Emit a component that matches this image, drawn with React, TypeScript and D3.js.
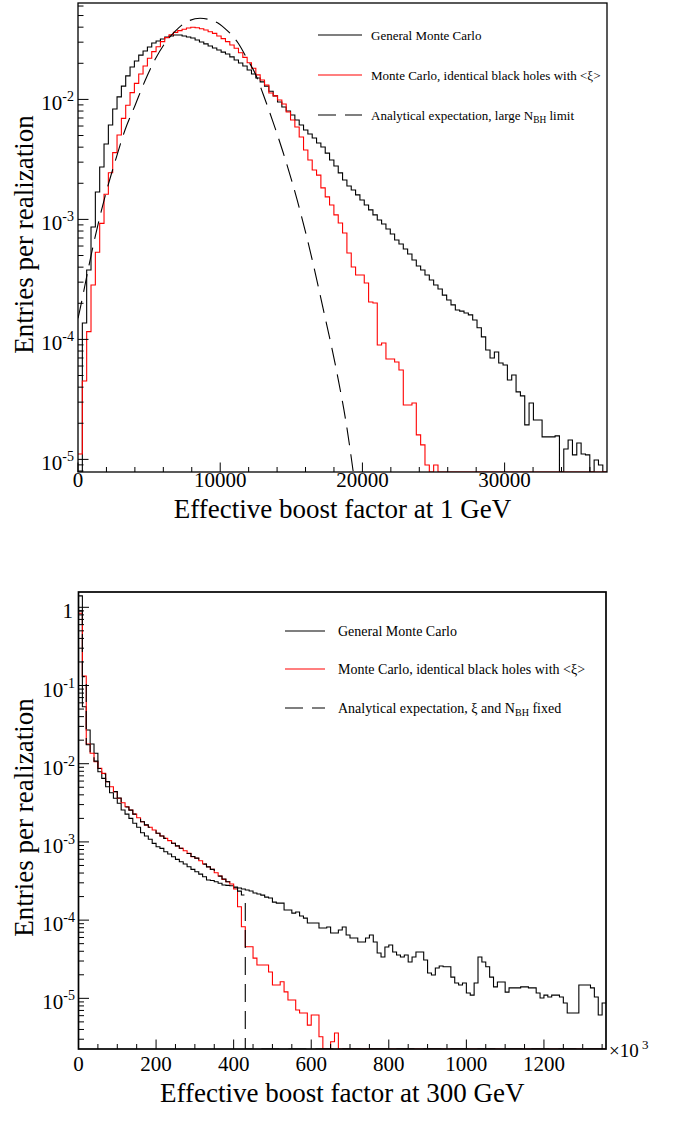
import React from 'react';
import * as d3 from 'd3';

// ---------------- Top panel data (Effective boost factor at 1 GeV) ----------------
const topBinWidth = 305;
const topGeneral = [
  0, 1.37e-4, 3.79e-4, 8.64e-4, 1.69e-3, 2.73e-3, 4.25e-3, 6.12e-3, 8.32e-3, 1.05e-2,
  1.29e-2, 1.57e-2, 1.86e-2, 2.09e-2, 2.34e-2, 2.53e-2, 2.73e-2, 2.95e-2, 3.07e-2, 3.19e-2,
  3.31e-2, 3.38e-2, 3.44e-2, 3.44e-2, 3.38e-2, 3.31e-2, 3.25e-2, 3.13e-2, 3.01e-2, 2.9e-2,
  2.79e-2, 2.68e-2, 2.58e-2, 2.48e-2, 2.39e-2, 2.26e-2, 2.13e-2, 2.01e-2, 1.9e-2, 1.76e-2,
  1.63e-2, 1.51e-2, 1.4e-2, 1.29e-2, 1.17e-2, 1.07e-2, 9.51e-3, 8.64e-3, 8.0e-3, 7.41e-3,
  6.73e-3, 6.12e-3, 5.56e-3, 5.15e-3, 4.77e-3, 4.33e-3, 4.01e-3, 3.57e-3, 3.13e-3, 2.79e-3,
  2.44e-3, 2.13e-3, 1.9e-3, 1.76e-3, 1.6e-3, 1.45e-3, 1.32e-3, 1.2e-3, 1.09e-3, 9.89e-4,
  9.16e-4, 8.32e-4, 7.56e-4, 6.74e-4, 6.24e-4, 5.67e-4, 5.15e-4, 4.59e-4, 4.09e-4, 3.79e-4,
  3.44e-4, 3.13e-4, 2.84e-4, 2.63e-4, 2.34e-4, 2.13e-4, 1.94e-4, 1.76e-4, 1.72e-4, 1.66e-4,
  1.6e-4, 1.45e-4, 1.25e-4, 1.05e-4, 8.15e-5, 7.0e-5, 7.85e-5, 6.36e-5, 6.12e-5, 4.59e-5,
  5.05e-5, 3.65e-5, 3.38e-5, 1.94e-5, 2.95e-5, 2.13e-5, 2.13e-5, 1.54e-5, 1.54e-5, 1.54e-5,
  1.57e-5, 0, 1.22e-5, 1.45e-5, 1.09e-5, 1.37e-5, 1.11e-5, 1.09e-5, 0, 9.89e-6,
  8.98e-6, 0,
];
const topIdentical = [
  1.11e-5, 4.5e-5, 1.16e-4, 2.84e-4, 5.32e-4, 9.27e-4, 1.62e-3, 2.45e-3, 3.6e-3, 5.05e-3,
  6.95e-3, 8.93e-3, 1.14e-2, 1.36e-2, 1.63e-2, 1.9e-2, 2.2e-2, 2.5e-2, 2.75e-2, 3.03e-2,
  3.27e-2, 3.46e-2, 3.62e-2, 3.74e-2, 3.84e-2, 3.94e-2, 3.99e-2, 3.96e-2, 3.88e-2, 3.79e-2,
  3.66e-2, 3.55e-2, 3.38e-2, 3.21e-2, 3.03e-2, 2.84e-2, 2.67e-2, 2.45e-2, 2.24e-2, 2.02e-2,
  1.82e-2, 1.6e-2, 1.45e-2, 1.32e-2, 1.13e-2, 1.07e-2, 9.89e-3, 9.16e-3, 7.85e-3, 6.73e-3,
  5.89e-3, 4.86e-3, 3.79e-3, 3.13e-3, 2.58e-3, 2.34e-3, 1.83e-3, 1.54e-3, 1.32e-3, 1.09e-3,
  9.33e-4, 7.7e-4, 5.25e-4, 4.01e-4, 3.44e-4, 3.44e-4, 2.95e-4, 2.05e-4, 2.01e-4, 8.98e-5,
  9.33e-5, 6.87e-5, 6.87e-5, 6.48e-5, 5.56e-5, 2.84e-5, 2.84e-5, 2.95e-5, 1.6e-5, 1.32e-5,
  8.98e-6, 0, 8.98e-6, 0, 0, 0, 0, 0, 0, 0,
  0, 0, 0, 0, 0, 0, 0, 0, 0, 0,
  0, 0, 0, 0, 0, 0, 0, 0, 0, 0,
  0, 0, 0, 0, 0, 0, 0, 0, 0, 0,
  0, 0,
];
const topAnalyticX = [
  0, 141, 725, 1196, 1899, 2603, 3306, 4010, 4713, 5417, 6120, 6824, 7527, 8583,
  9638, 10341, 11256, 11959, 12452, 13015, 13718, 14421, 15406, 16321, 17235, 18220, 18924, 19346,
];
const topAnalyticY = [
  1.5e-4, 1.78e-4, 3.89e-4, 7.08e-4, 1.55e-3, 3.02e-3, 5.56e-3, 8.91e-3, 1.43e-2, 2.15e-2, 2.95e-2, 3.69e-2, 4.35e-2, 4.74e-2,
  4.45e-2, 3.89e-2, 2.95e-2, 2.11e-2, 1.65e-2, 1.11e-2, 6.46e-3, 3.63e-3, 1.46e-3, 5.47e-4, 1.81e-4, 5.18e-5, 1.79e-5, 8.0e-6,
];
const topXTicks = [0, 10000, 20000, 30000];
const topYTickExps = [-2, -3, -4, -5];
const topLegend = [
  'General Monte Carlo',
  'Monte Carlo, identical black holes with <ξ>',
  'Analytical expectation, large N',
];

// ---------------- Bottom panel data (Effective boost factor at 300 GeV, x10^3) ----------------
const bottomBinWidth = 10;
const bottomGeneral = [
  1.4, 5.36e-2, 2.7e-2, 1.79e-2, 1.36e-2, 7.91e-3, 6.5e-3, 5.08e-3, 4.26e-3, 3.61e-3,
  3.12e-3, 2.56e-3, 2.27e-3, 2.0e-3, 1.73e-3, 1.54e-3, 1.31e-3, 1.19e-3, 1.08e-3, 9.59e-4,
  8.69e-4, 8.28e-4, 7.5e-4, 7.0e-4, 6.47e-4, 5.98e-4, 5.58e-4, 5.21e-4, 4.82e-4, 4.46e-4,
  4.16e-4, 3.88e-4, 3.59e-4, 3.26e-4, 3.21e-4, 3.1e-4, 2.96e-4, 2.81e-4, 2.78e-4, 2.75e-4,
  2.65e-4, 2.57e-4, 2.5e-4, 2.43e-4, 2.36e-4, 2.22e-4, 2.16e-4, 2.09e-4, 1.97e-4, 1.92e-4,
  1.7e-4, 1.65e-4, 1.65e-4, 1.35e-4, 1.35e-4, 1.23e-4, 1.27e-4, 1.13e-4, 1.06e-4, 9.18e-5,
  9.18e-5, 9.18e-5, 7.93e-5, 7.93e-5, 8.17e-5, 6.84e-5, 6.84e-5, 7.47e-5, 8.17e-5, 6.45e-5,
  5.9e-5, 5.9e-5, 5.25e-5, 5.25e-5, 5.9e-5, 6.45e-5, 5.25e-5, 3.8e-5, 3.38e-5, 4.53e-5,
  4.81e-5, 3.91e-5, 3.58e-5, 3.38e-5, 3.58e-5, 2.91e-5, 3.38e-5, 3.91e-5, 3.91e-5, 3.09e-5,
  2.11e-5, 1.99e-5, 2.44e-5, 2.59e-5, 2.53e-5, 2.53e-5, 1.87e-5, 1.57e-5, 1.48e-5, 1.57e-5,
  1.17e-5, 1.1e-5, 1.57e-5, 3.38e-5, 2.91e-5, 2.53e-5, 1.87e-5, 1.4e-5, 1.62e-5, 1.62e-5,
  1.2e-5, 1.36e-5, 1.36e-5, 1.36e-5, 1.4e-5, 1.4e-5, 1.36e-5, 1.36e-5, 1.17e-5, 1.01e-5,
  1.1e-5, 1.04e-5, 1.1e-5, 1.1e-5, 1.04e-5, 8.71e-6, 6.49e-6, 6.49e-6, 6.49e-6, 1.48e-5,
  1.48e-5, 1.48e-5, 1.36e-5, 1.04e-5, 6.11e-6, 8.71e-6,
];
const bottomIdentical = [
  0.84, 0.132, 1.79e-2, 1.36e-2, 1.06e-2, 8.73e-3, 7.53e-3, 5.89e-3, 5.08e-3, 4.39e-3,
  3.61e-3, 3.17e-3, 2.82e-3, 2.56e-3, 2.27e-3, 2.04e-3, 1.81e-3, 1.64e-3, 1.54e-3, 1.42e-3,
  1.29e-3, 1.19e-3, 1.11e-3, 1.04e-3, 9.59e-4, 8.87e-4, 8.28e-4, 7.71e-4, 7.14e-4, 6.47e-4,
  6.17e-4, 5.75e-4, 5.21e-4, 4.82e-4, 4.46e-4, 4.04e-4, 3.66e-4, 3.32e-4, 3.1e-4, 2.9e-4,
  2.5e-4, 1.48e-4, 8.24e-5, 4.57e-5, 4.57e-5, 3.27e-5, 2.67e-5, 2.67e-5, 2.67e-5, 2.17e-5,
  1.48e-5, 1.48e-5, 1.63e-5, 1.21e-5, 9.51e-6, 9.51e-6, 7.08e-6, 6.48e-6, 6.48e-6, 4.55e-6,
  6.11e-6, 6.11e-6, 3.23e-6, 0, 0, 2.79e-6, 3.6e-6, 0, 0, 0,
  0, 0, 0, 0, 0, 0, 0, 0, 0, 0,
  0, 0, 0, 0, 0, 0, 0, 0, 0, 0,
  0, 0, 0, 0, 0, 0, 0, 0, 0, 0,
  0, 0, 0, 0, 0, 0, 0, 0, 0, 0,
  0, 0, 0, 0, 0, 0, 0, 0, 0, 0,
  0, 0, 0, 0, 0, 0, 0, 0, 0, 0,
  0, 0, 0, 0, 0, 0,
];
const bottomAnalytic = [
  0.9, 0.13, 1.75e-2, 1.36e-2, 1.08e-2, 8.7e-3, 7.4e-3, 5.9e-3, 5.1e-3, 4.4e-3,
  3.65e-3, 3.2e-3, 2.8e-3, 2.55e-3, 2.27e-3, 2.04e-3, 1.81e-3, 1.65e-3, 1.54e-3, 1.42e-3,
  1.29e-3, 1.19e-3, 1.11e-3, 1.04e-3, 9.6e-4, 8.9e-4, 8.3e-4, 7.7e-4, 7.1e-4, 6.5e-4,
  6.2e-4, 5.75e-4, 5.2e-4, 4.8e-4, 4.45e-4, 4.05e-4, 3.65e-4, 3.35e-4, 3.1e-4, 2.85e-4,
  2.6e-4, 2.35e-4, 2.1e-4, 0, 0, 0, 0, 0, 0, 0,
  0, 0, 0, 0, 0, 0, 0, 0, 0, 0,
  0, 0, 0, 0, 0, 0, 0, 0, 0, 0,
  0, 0, 0, 0, 0, 0, 0, 0, 0, 0,
  0, 0, 0, 0, 0, 0, 0, 0, 0, 0,
  0, 0, 0, 0, 0, 0, 0, 0, 0, 0,
  0, 0, 0, 0, 0, 0, 0, 0, 0, 0,
  0, 0, 0, 0, 0, 0, 0, 0, 0, 0,
  0, 0, 0, 0, 0, 0, 0, 0, 0, 0,
  0, 0, 0, 0, 0, 0,
];
const bottomXTicks = [0, 200, 400, 600, 800, 1000, 1200];
const bottomYTickExps = [0, -1, -2, -3, -4, -5];
const bottomLegend = [
  'General Monte Carlo',
  'Monte Carlo, identical black holes with <ξ>',
  'Analytical expectation, ξ and N',
];

const FONT = '"Liberation Serif", "Times New Roman", Times, serif';
const RED = '#ff0000';
const DASH = '18,9';

type Scale = any;

function histPath(values: number[], binWidth: number, x: Scale, y: Scale) {
  const [lo, hi] = y.domain();
  const pts: [number, number][] = values.map((v, i) => {
    const vv = v <= lo ? lo : Math.min(v, hi);
    return [x(i * binWidth), y(vv)];
  });
  pts.push([x(values.length * binWidth), pts[pts.length - 1][1]]);
  return d3.line().curve(d3.curveStepAfter)(pts) || '';
}

interface PanelProps {
  id: string;
  left: number; right: number; top: number; bottom: number;
  xDomain: [number, number];
  yDomain: [number, number];
  xMajor: number[]; xMinorStep: number;
  yExps: number[];
  general: number[]; identical: number[]; binWidth: number;
  analyticPath: (x: Scale, y: Scale) => string;
  frameWidth: number;
  xLabelY: number; xTitleY: number; xTitle: string;
  yTitleX: number;
  legendLabels: string[]; legendTail: string; legendX1: number; legendX2: number; legendTextX: number;
  legendYs: number[]; legendFont: number;
  yLabelRight: number;
  extra?: React.ReactNode;
}

function Panel(p: PanelProps) {
  const x = d3.scaleLinear().domain(p.xDomain).range([p.left, p.right]);
  const y = d3.scaleLog().domain(p.yDomain).range([p.bottom, p.top]);
  const yTicks = y.ticks().filter((t: number) => t >= p.yDomain[0] && t <= p.yDomain[1]);
  const xMinor = d3.range(p.xDomain[0], p.xDomain[1], p.xMinorStep);
  const clipId = `clip-${p.id}`;
  return (
    <g>
      <defs>
        <clipPath id={clipId}>
          <rect x={p.left} y={p.top} width={p.right - p.left} height={p.bottom - p.top} />
        </clipPath>
      </defs>
      <g clipPath={`url(#${clipId})`} fill="none">
        <path d={histPath(p.general, p.binWidth, x, y)} stroke="#000" strokeWidth={1.1} />
        <path d={histPath(p.identical, p.binWidth, x, y)} stroke={RED} strokeWidth={1.1} />
        <path d={p.analyticPath(x, y)} stroke="#000" strokeWidth={1.1} strokeDasharray={DASH} />
      </g>
      {/* y ticks */}
      {yTicks.map((t: number, i: number) => {
        const major = Math.abs(Math.log10(t) - Math.round(Math.log10(t))) < 1e-9;
        return (
          <line key={`yt${i}`} x1={p.left} x2={p.left + (major ? 10.5 : 5.5)} y1={y(t)} y2={y(t)}
            stroke="#000" strokeWidth={1} />
        );
      })}
      {/* x ticks */}
      {xMinor.map((t, i) => {
        const major = p.xMajor.includes(t);
        return (
          <line key={`xt${i}`} x1={x(t)} x2={x(t)} y1={p.bottom} y2={p.bottom - (major ? 9.5 : 5)}
            stroke="#000" strokeWidth={1} />
        );
      })}
      <rect x={p.left} y={p.top} width={p.right - p.left} height={p.bottom - p.top}
        fill="none" stroke="#000" strokeWidth={p.frameWidth} />
      {/* y labels */}
      {p.yExps.map((e) => (
        e === 0 ? (
          <text key={`yl${e}`} x={p.yLabelRight - 2} y={y(1) + 11} textAnchor="end" fontSize={21}>1</text>
        ) : (
          <text key={`yl${e}`} x={p.yLabelRight} y={y(Math.pow(10, e)) + 11} textAnchor="end" fontSize={21}>
            10<tspan dy={-9} fontSize={14}>{`-${-e}`}</tspan>
          </text>
        )
      ))}
      {/* x labels */}
      {p.xMajor.map((t) => (
        <text key={`xl${t}`} x={x(t)} y={p.xLabelY} textAnchor="middle" fontSize={21}>{t}</text>
      ))}
      <text x={(p.left + p.right) / 2} y={p.xTitleY} textAnchor="middle" fontSize={27}>{p.xTitle}</text>
      <text transform={`translate(${p.yTitleX},${(p.top + p.bottom) / 2 - 3}) rotate(-90)`} textAnchor="middle" fontSize={27}>
        Entries per realization
      </text>
      {/* legend */}
      {p.legendYs.map((ly, i) => (
        <g key={`lg${i}`}>
          <line x1={p.legendX1} x2={p.legendX2} y1={ly} y2={ly}
            stroke={i === 1 ? RED : '#000'} strokeWidth={1.1}
            strokeDasharray={i === 2 ? DASH : undefined} />
          <text x={p.legendTextX} y={ly + 4.5} fontSize={p.legendFont}>
            {p.legendLabels[i]}
            {i === 2 ? (
              <>
                <tspan dy={3.5} fontSize={p.legendFont * 0.72}>BH</tspan>
                <tspan dy={-3.5}>{p.legendTail}</tspan>
              </>
            ) : null}
          </text>
        </g>
      ))}
      {p.extra}
    </g>
  );
}

export default function App() {
  const topAnalytic = (x: Scale, y: Scale) => {
    const pts: [number, number][] = topAnalyticX.map((v, i) => [x(v), y(topAnalyticY[i])]);
    return d3.line().curve(d3.curveMonotoneX)(pts) || '';
  };
  const bottomAnalyticPath = (x: Scale, y: Scale) => histPath(bottomAnalytic, bottomBinWidth, x, y);

  return (
    <svg width={682} height={1126} viewBox="0 0 682 1126"
      style={{ position: 'absolute', left: 0, top: 0, background: '#fff' }}
      fontFamily={FONT} fill="#000">
      <rect x={0} y={0} width={682} height={1126} fill="#fff" />
      <Panel
        id="top" left={78} right={607} top={3} bottom={472}
        xDomain={[0, 37200]} yDomain={[7.85e-6, 0.0636]}
        xMajor={topXTicks} xMinorStep={2000} yExps={topYTickExps}
        general={topGeneral} identical={topIdentical} binWidth={topBinWidth}
        analyticPath={topAnalytic} frameWidth={1.3}
        xLabelY={487} xTitleY={518} xTitle="Effective boost factor at 1 GeV"
        yTitleX={33}
        legendLabels={topLegend} legendTail=" limit" legendX1={318} legendX2={362} legendTextX={371}
        legendYs={[35, 75, 115]} legendFont={13} yLabelRight={74}
      />
      <Panel
        id="bottom" left={78.5} right={606} top={592} bottom={1049}
        xDomain={[0, 1360]} yDomain={[2.25e-6, 1.569]}
        xMajor={bottomXTicks} xMinorStep={50} yExps={bottomYTickExps}
        general={bottomGeneral} identical={bottomIdentical} binWidth={bottomBinWidth}
        analyticPath={bottomAnalyticPath} frameWidth={1.7}
        xLabelY={1071} xTitleY={1102} xTitle="Effective boost factor at 300 GeV"
        yTitleX={33}
        legendLabels={bottomLegend} legendTail=" fixed" legendX1={285} legendX2={325} legendTextX={338}
        legendYs={[631, 669, 708]} legendFont={14} yLabelRight={75}
        extra={
          <text x={609} y={1057} fontSize={19}>
            ×10<tspan dy={-8} fontSize={13}> 3</tspan>
          </text>
        }
      />
    </svg>
  );
}
